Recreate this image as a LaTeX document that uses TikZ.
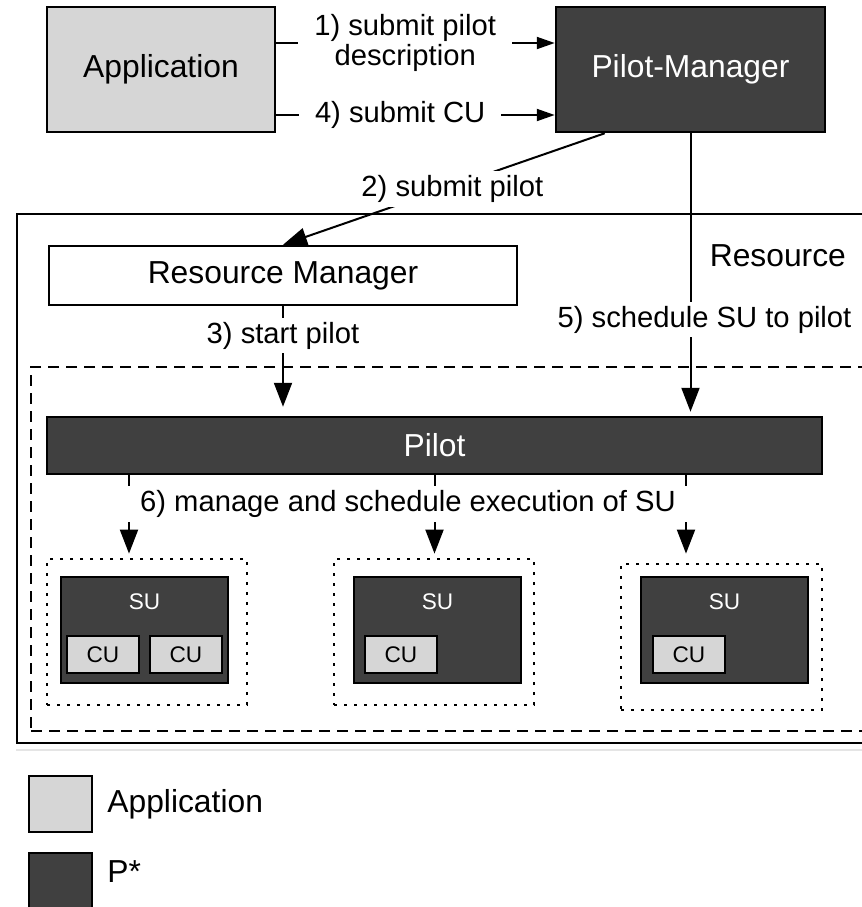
\documentclass[tikz,border=0pt]{standalone}
\usepackage{fontspec}
\setmainfont{Liberation Sans}
\usetikzlibrary{arrows.meta}
\definecolor{pdark}{RGB}{64,64,64}
\definecolor{plight}{RGB}{214,214,214}

\begin{document}
\begin{tikzpicture}[x=0.5pt, y=-0.5pt]
\tikzstyle{box} = [rectangle, draw = black, line width = 1.25pt, inner sep = 0pt, font = \fontsize{15.9}{19}\selectfont]
\tikzstyle{appbox} = [box, fill = plight]
\tikzstyle{pbox} = [box, fill = pdark, text = white]
\tikzstyle{cu} = [appbox, minimum width = 36pt, minimum height = 18.5pt, font = \fontsize{11.3}{13}\selectfont]
\tikzstyle{su} = [pbox, minimum width = 83.5pt, minimum height = 53pt]
\tikzstyle{sutext} = [text = white, inner sep = 0pt, font = \fontsize{11.3}{13}\selectfont]
\tikzstyle{slot} = [rectangle, draw = black, line width = 1.4pt, dash pattern = on 1.4pt off 3.6pt, minimum height = 73pt]
\tikzstyle{lbl} = [fill = white, inner xsep = 8pt, inner ysep = 2pt, font = \fontsize{14.6}{15}\selectfont]
\tikzstyle{edge} = [line width = 1pt, -{Triangle[length = 12pt, width = 9pt]}]
\tikzstyle{sedge} = [line width = 1pt, -{Triangle[length = 9pt, width = 6pt]}]
\useasboundingbox (0, 0) rectangle (862, 907);
\clip (0, 0) rectangle (862, 907);
% -----------------------------------
% Application and Pilot-Manager
\node[appbox, minimum width = 114pt, minimum height = 62.5pt] (app) at (161, 69.5) {Application};
\node[pbox, minimum width = 134.5pt, minimum height = 62.5pt] (PM) at (690.5, 69.5) {Pilot-Manager};

\draw[sedge] ([yshift = 13.25pt]app.east) -- node[lbl, pos = 0.463, align = center] {1) submit pilot\\description} ([yshift = 13.25pt]PM.west);
\draw[sedge] ([yshift = -22.75pt]app.east) -- node[lbl, pos = 0.445] {4) submit CU} ([yshift = -22.75pt]PM.west);

% -----------------------------------
% Resource
\node[rectangle, draw = black, line width = 1.25pt, minimum width = 431.5pt, minimum height = 264.5pt] (res) at (448.5, 478.5) {};
\draw[black!10, line width = 1pt] ([yshift = -3pt]res.south west) -- ([yshift = -3pt]res.south east);
\node[anchor = east, font = \fontsize{15.9}{19}\selectfont] (restext) at (853, 256) {Resource};
\node[box, fill = white, minimum width = 234pt, minimum height = 29.5pt] (RM) at (283, 275.5) {Resource Manager};

\draw[edge] ([xshift = 25pt]PM.south west) -- node[lbl, xshift = 4.25pt] {2) submit pilot} (RM.north);

% -----------------------------------
% Pilot
\node[rectangle, draw = black, line width = 1.25pt, dash pattern = on 5.5pt off 3.5pt, minimum width = 424.5pt, minimum height = 182pt] (area) at (455.5, 549) {};
\node[pbox, minimum width = 387.5pt, minimum height = 28.5pt] (pilot) at (434.5, 445.5) {Pilot};

\draw[edge, shorten > = 4.5pt] (RM.south) -- node[lbl, pos = 0.27, inner xsep = 2pt] {3) start pilot} (RM.south |- pilot.north);
\draw[edge, shorten > = 2pt] (PM.south) -- node[lbl, pos = 0.66, xshift = 7pt, inner xsep = 2pt] {5) schedule SU to pilot} (PM.south |- pilot.north);

% -----------------------------------
% SU slots
\node[slot, minimum width = 100pt] (slot1) at (147, 632) {};
\node[slot, minimum width = 100pt] (slot2) at (434, 632) {};
\node[slot, minimum width = 100.5pt] (slot3) at (721.5, 637) {};

\node[su] (SU1) at (144.5, 630) {};
\node[su] (SU2) at (437.5, 630) {};
\node[su] (SU3) at (724.5, 630) {};
\node[sutext] (SU1t) at (144.5, 602) {SU};
\node[sutext] (SU2t) at (437.5, 602) {SU};
\node[sutext] (SU3t) at (724.5, 602) {SU};

\node[cu] (CU1) at (103, 654.5) {CU};
\node[cu] (CU2) at (186, 654.5) {CU};
\node[cu] (CU3) at (401, 654.5) {CU};
\node[cu] (CU4) at (689, 654.5) {CU};

\draw[edge, shorten > = 2pt] ([xshift = -152.75pt]pilot.south) -- ([xshift = -152.75pt]pilot.south |- slot1.north);
\draw[edge, shorten > = 2pt] (pilot.south) -- (pilot.south |- slot2.north);
\draw[edge, shorten > = 4.5pt] ([xshift = 125.75pt]pilot.south) -- ([xshift = 125.75pt]pilot.south |- slot3.north);
\node[lbl] (manage) at (408, 504) {6) manage and schedule execution of SU};

% -----------------------------------
% Legend
\node[appbox, minimum width = 31.5pt, minimum height = 28pt] (legapp) at (60.5, 804) {};
\node[anchor = west, inner sep = 0pt, font = \fontsize{15.9}{19}\selectfont] (legapptext) at (107, 804) {Application};
\node[pbox, minimum width = 31.5pt, minimum height = 28pt] (legp) at (60.5, 881) {};
\node[anchor = west, inner sep = 0pt, font = \fontsize{15.9}{19}\selectfont] (legptext) at (107, 872) {P*};
% -----------------------------------
\end{tikzpicture}
\end{document}
